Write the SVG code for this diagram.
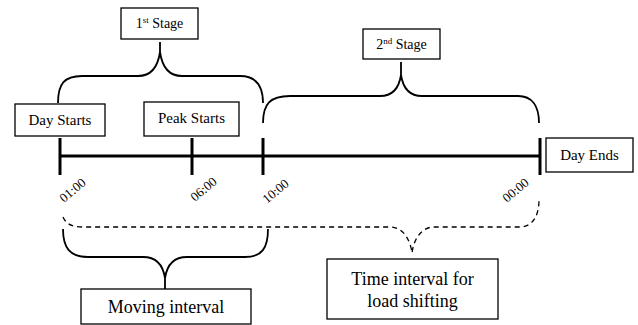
<svg xmlns="http://www.w3.org/2000/svg" width="638" height="325" viewBox="0 0 638 325">
  <style>
    .box { fill: #fff; stroke: #000; stroke-width: 1.3; }
    .lbl { font-family: "Liberation Serif", "Times New Roman", serif; fill: #000; }
    .brace { fill: none; stroke: #000; stroke-width: 1.8; }
    .dash { fill: none; stroke: #000; stroke-width: 1.3; stroke-dasharray: 5 4; }
    .axis { stroke: #000; stroke-width: 3; fill: none; }
    .time { font-family: "Liberation Serif", "Times New Roman", serif; font-size: 13px; fill: #000; }
  </style>
  <rect width="638" height="325" fill="#fff"/>

  <!-- timeline -->
  <g id="connectors">
    <line class="axis" x1="60" y1="156" x2="540" y2="156"/>
    <line class="axis" x1="60" y1="138" x2="60" y2="175"/>
    <line class="axis" x1="192" y1="138" x2="192" y2="175"/>
    <line class="axis" x1="263" y1="138" x2="263" y2="175"/>
    <line class="axis" x1="540" y1="138" x2="540" y2="175"/>

    <!-- brace over 1st stage -->
    <path class="brace" d="M58,103 C58,84 64,76 82,76 L138,76 C152,76 158,66 160,52 C162,66 168,76 182,76 L240,76 C256,76 263,86 263,103 M160,52 L160,42"/>
    <!-- brace over 2nd stage -->
    <path class="brace" d="M263,123 C263,104 270,96 290,96 L380,96 C393,96 399,88 401,75 C403,88 409,96 422,96 L518,96 C532,96 539,106 539,123 M401,75 L401,62"/>
    <!-- dashed brace: load shifting interval -->
    <path class="dash" d="M63,217 C66,224 72,227 82,227 L390,227 C402,227 410,238 412,253 C414,238 422,227 434,227 L520,227 C533,227 539,215 539,200"/>
    <!-- brace: moving interval -->
    <path class="brace" d="M63,229 C63,248 70,257 88,257 L143,257 C156,257 163,265 165,278 C167,265 174,257 187,257 L245,257 C262,257 268,248 268,229 M165,278 L165,289"/>
  </g>

  <g id="stage1">
    <rect class="box" x="121" y="8" width="77" height="31"/>
    <text class="lbl" x="159.5" y="28" font-size="14" text-anchor="middle">1<tspan font-size="9" dy="-5">st</tspan><tspan dy="5"> Stage</tspan></text>
  </g>
  <g id="stage2">
    <rect class="box" x="363" y="29" width="77" height="30"/>
    <text class="lbl" x="401.5" y="49" font-size="14" text-anchor="middle">2<tspan font-size="9" dy="-5">nd</tspan><tspan dy="5"> Stage</tspan></text>
  </g>
  <g id="day-starts">
    <rect class="box" x="15" y="104" width="90" height="32"/>
    <text class="lbl" x="60" y="125" font-size="15" text-anchor="middle">Day Starts</text>
  </g>
  <g id="peak-starts">
    <rect class="box" x="144" y="102" width="95" height="34"/>
    <text class="lbl" x="191.5" y="123" font-size="15" text-anchor="middle">Peak Starts</text>
  </g>
  <g id="day-ends">
    <rect class="box" x="546" y="138" width="87" height="34"/>
    <text class="lbl" x="589.5" y="160" font-size="15" text-anchor="middle">Day Ends</text>
  </g>

  <g id="times">
    <text class="time" transform="translate(64,203) rotate(-40)">01:00</text>
    <text class="time" transform="translate(195,202) rotate(-40)">06:00</text>
    <text class="time" transform="translate(267,204) rotate(-40)">10:00</text>
    <text class="time" transform="translate(507,203) rotate(-40)">00:00</text>
  </g>

  <g id="moving-interval">
    <rect class="box" x="81" y="289" width="170" height="35"/>
    <text class="lbl" x="166" y="313" font-size="18" text-anchor="middle">Moving interval</text>
  </g>
  <g id="load-shifting">
    <rect class="box" x="327" y="259" width="171" height="60"/>
    <text class="lbl" x="412.5" y="285" font-size="18" text-anchor="middle">Time interval for</text>
    <text class="lbl" x="412.5" y="307" font-size="18" text-anchor="middle">load shifting</text>
  </g>
</svg>
